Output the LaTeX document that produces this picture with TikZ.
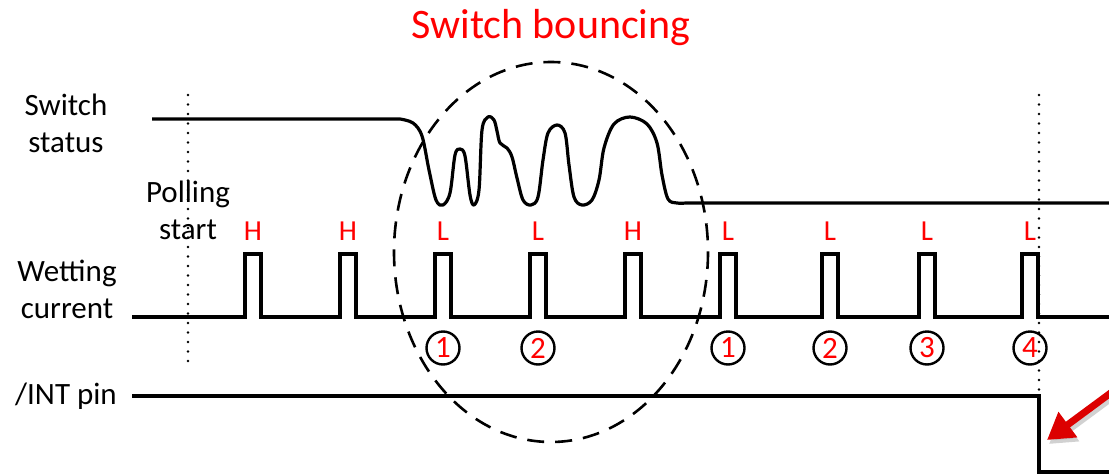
\documentclass[tikz,border=0pt]{standalone}
\usepackage{fontspec}
\setmainfont{Carlito}
\usepackage{tikz}
\usetikzlibrary{positioning, arrows.meta, calc}
\usepackage{xcolor}
\definecolor{pptred}{RGB}{255,0,0}
\definecolor{arrowred}{RGB}{220,0,0}
\tikzset{
  sig/.style={line width=3.2pt, line join=miter},
  lbl/.style={font=\fontsize{31}{37}\selectfont, align=center, inner sep=0pt},
  lvl/.style={font=\fontsize{29}{30}\selectfont, text=pptred, inner sep=0pt},
  num/.style={circle, draw, line width=2.4pt, minimum size=33pt, inner sep=0pt,
    font=\fontsize{31}{32}\selectfont, text=pptred},
  vmark/.style={line width=2.6pt, line cap=round, dash pattern=on 0pt off 9.5pt},
}

\begin{document}
\begin{tikzpicture}[x=1pt, y=-1pt]
  \useasboundingbox (0,0) rectangle (1109,474);

  % titles and row labels
  \node[lbl, text=pptred, font=\fontsize{42}{48}\selectfont] (title) at (551,28) {Switch bouncing};
  \node[lbl] (swlbl) at (66,123) {Switch\\status};
  \node[lbl] (polllbl) at (188,210) {Polling\\start};
  \node[lbl] (wetlbl) at (67,289) {Wetting\\current};
  \node[lbl, anchor=west] (intlbl) at (15,396) {/INT pin};

  % dotted markers
  \coordinate (pollTop) at (188,95);
  \coordinate (pollBot) at (188,366);
  \coordinate (intTop) at (1039,95);
  \coordinate (intBot) at (1039,462);
  \draw[vmark] (pollTop) -- (pollBot);
  \draw[vmark] (intTop) -- (intBot);

  % switch status with the bounce
  \draw[sig, line join=round] (152,119) -- (400,119)
    plot[smooth, tension=0.55] coordinates {
      (400,119) (413,123) (422,136) (429,170) (436,200) (443,205) (450,193)
      (455,155) (460,149) (465,156) (470,195) (474,205) (479,190) (482,130)
      (488,117) (494,120) (497,131) (500,143) (507,148) (512,157) (517,178)
      (523,200) (531,205) (538,197) (543,160) (548,133) (557,125) (565,133)
      (569,165) (574,197) (582,205) (592,200) (599,180) (604,148) (614,124)
      (630,117) (647,124) (657,143) (662,175) (668,199) (677,203) (686,203)}
    -- (1109,203);

  % wetting current pulses
  \draw[sig] (132,317)
    \foreach \x in {245,340,435,530,625,720,822,919,1022} {
      -- (\x,317) -- (\x,254) -- (\x+16,254) -- (\x+16,317)
    } -- (1109,317);

  % sampled levels
  \foreach \x/\t [count=\i] in {245/H,340/H,435/L,530/L,625/H,720/L,822/L,919/L,1022/L}
    \node[lvl] (lv\i) at (\x+8,231) {\t};

  % debounce counter
  \foreach \x/\t [count=\i] in {443/1,538/2,728/1,830/2,927/3,1030/4}
    \node[num] (cnt\i) at (\x,348) {\t};

  % /INT pin
  \draw[sig] (132,396) -- (1039,396) -- (1039,472) -- (1109,472);

  % bouncing region
  \draw[line width=2.6pt, dash pattern=on 17pt off 11pt] (551,252) ellipse (157 and 190);

  % pointer
  \coordinate (ptrFrom) at (1112,392);
  \coordinate (ptrTo) at (1047,440);
  \draw[line width=7pt, black!30, opacity=0.6, -{Triangle[length=26pt, width=30pt]}]
    ($(ptrFrom)+(2,4)$) -- ($(ptrTo)+(2,4)$);
  \draw[line width=7pt, arrowred, -{Triangle[length=26pt, width=30pt]}] (ptrFrom) -- (ptrTo);
\end{tikzpicture}
\end{document}
